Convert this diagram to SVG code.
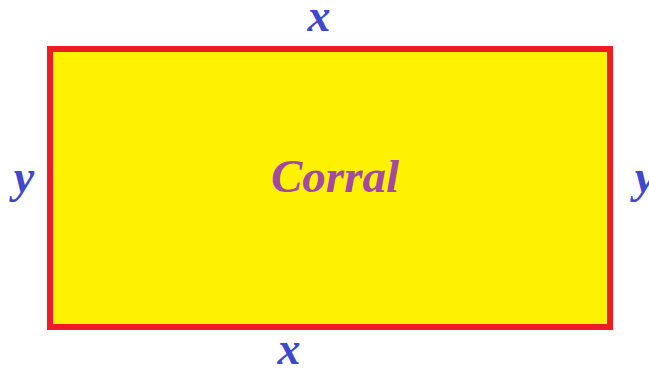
<svg xmlns="http://www.w3.org/2000/svg" width="649" height="369" viewBox="0 0 649 369">
<style>
.lbl{font-family:"Liberation Serif","Times New Roman",serif;font-weight:bold;font-style:italic;font-size:46px;text-anchor:middle}
.v{fill:#3F48CC}
.c{fill:#A349A4;font-size:47px}
</style>
<rect width="649" height="369" fill="#FFFFFF"/>
<g id="corral">
<rect x="50" y="49" width="560" height="278" fill="#FFF200" stroke="#ED1C24" stroke-width="6"/>
<text class="lbl c" x="335" y="192">Corral</text>
</g>
<g id="labels">
<text class="lbl v" x="319" y="31">x</text>
<text class="lbl v" x="289" y="364">x</text>
<text class="lbl v" x="24" y="192">y</text>
<text class="lbl v" x="645" y="192">y</text>
</g>
<g id="connectors"/>
</svg>
